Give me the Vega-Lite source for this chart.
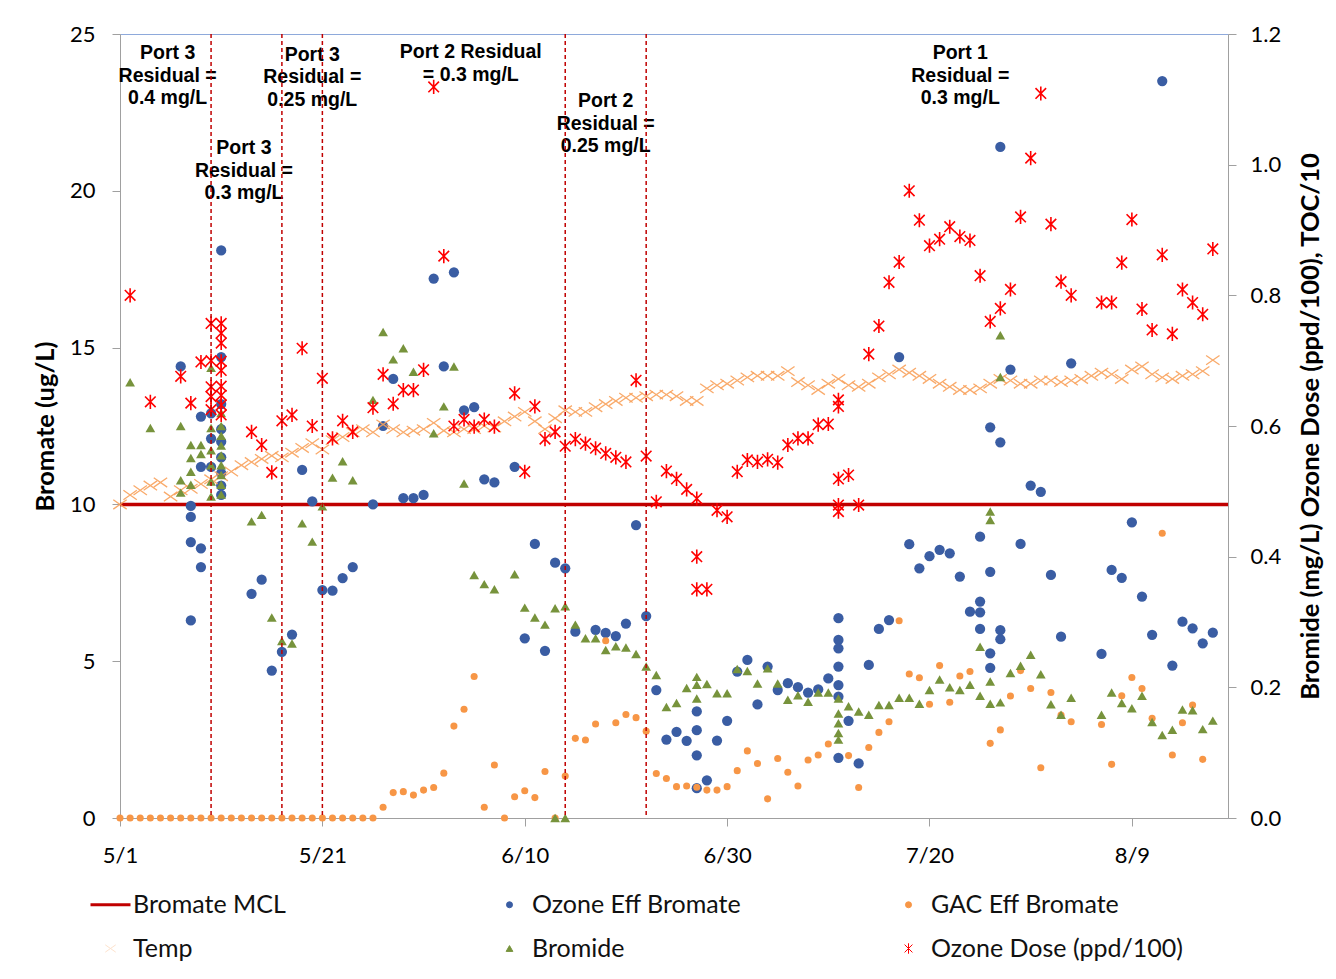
{
  "$schema": "https://vega.github.io/schema/vega-lite/v6.json",
  "width": 1108,
  "height": 784,
  "autosize": {"type": "none"},
  "padding": {"left": 120, "top": 34, "right": 108, "bottom": 161},
  "background": "#ffffff",
  "config": {
    "font": "Lato",
    "view": {"stroke": "#8EA9DB", "strokeWidth": 1},
    "axis": {
      "domainColor": "#A0A0A0", "tickColor": "#A0A0A0", "grid": false,
      "labelFont": "Lato", "labelFontSize": 22, "labelColor": "#000000",
      "titleFont": "Lato", "titleFontSize": 25.5, "titleFontWeight": "bold", "titleColor": "#000000",
      "tickSize": 8, "labelFlush": false, "labelOverlap": false
    }
  },
  "datasets": {
    "mcl": [{"value": 10}],
    "changes": [
      {"date": "2013-05-10"}, {"date": "2013-05-17"}, {"date": "2013-05-21"},
      {"date": "2013-06-14"}, {"date": "2013-06-22"}
    ],
    "notes": [
      {"date": "2013-05-05T17:00:00Z", "value": 24.68, "text": "Port 3\nResidual =\n0.4 mg/L"},
      {"date": "2013-05-13T06:00:00Z", "value": 21.65, "text": "Port 3\nResidual =\n0.3 mg/L"},
      {"date": "2013-05-20T00:00:00Z", "value": 24.62, "text": "Port 3\nResidual =\n0.25 mg/L"},
      {"date": "2013-06-04T16:00:00Z", "value": 24.71, "text": "Port 2 Residual\n= 0.3 mg/L"},
      {"date": "2013-06-18T00:00:00Z", "value": 23.15, "text": "Port 2\nResidual =\n0.25 mg/L"},
      {"date": "2013-07-23T01:00:00Z", "value": 24.68, "text": "Port 1\nResidual =\n0.3 mg/L"}
    ],
    "ozoneEff": [
      {"date": "2013-05-07", "value": 14.4},
      {"date": "2013-05-08", "value": 9.95}, {"date": "2013-05-08", "value": 9.6}, {"date": "2013-05-08", "value": 8.8}, {"date": "2013-05-08", "value": 6.3},
      {"date": "2013-05-09", "value": 12.8}, {"date": "2013-05-09", "value": 11.2}, {"date": "2013-05-09", "value": 8.6}, {"date": "2013-05-09", "value": 8.0},
      {"date": "2013-05-10", "value": 12.9}, {"date": "2013-05-10", "value": 12.1}, {"date": "2013-05-10", "value": 11.2},
      {"date": "2013-05-11", "value": 18.1}, {"date": "2013-05-11", "value": 14.7}, {"date": "2013-05-11", "value": 13.2}, {"date": "2013-05-11", "value": 12.4}, {"date": "2013-05-11", "value": 12.0}, {"date": "2013-05-11", "value": 11.5}, {"date": "2013-05-11", "value": 11.0}, {"date": "2013-05-11", "value": 10.6}, {"date": "2013-05-11", "value": 10.3},
      {"date": "2013-05-14", "value": 7.15}, {"date": "2013-05-15", "value": 7.6}, {"date": "2013-05-16", "value": 4.7}, {"date": "2013-05-17", "value": 5.3},
      {"date": "2013-05-18", "value": 5.85}, {"date": "2013-05-19", "value": 11.1}, {"date": "2013-05-20", "value": 10.1}, {"date": "2013-05-21", "value": 7.27},
      {"date": "2013-05-22", "value": 7.25}, {"date": "2013-05-23", "value": 7.65}, {"date": "2013-05-24", "value": 8.0}, {"date": "2013-05-26", "value": 10.0},
      {"date": "2013-05-27", "value": 12.5}, {"date": "2013-05-28", "value": 14.0}, {"date": "2013-05-29", "value": 10.2}, {"date": "2013-05-30", "value": 10.2},
      {"date": "2013-05-31", "value": 10.3}, {"date": "2013-06-01", "value": 17.2}, {"date": "2013-06-02", "value": 14.4}, {"date": "2013-06-03", "value": 17.4},
      {"date": "2013-06-04", "value": 13.0}, {"date": "2013-06-05", "value": 13.1}, {"date": "2013-06-06", "value": 10.8}, {"date": "2013-06-07", "value": 10.7},
      {"date": "2013-06-09", "value": 11.2}, {"date": "2013-06-10", "value": 5.73}, {"date": "2013-06-11", "value": 8.74}, {"date": "2013-06-12", "value": 5.33},
      {"date": "2013-06-13", "value": 8.14}, {"date": "2013-06-14", "value": 7.96}, {"date": "2013-06-15", "value": 5.94}, {"date": "2013-06-17", "value": 6.0},
      {"date": "2013-06-18", "value": 5.9}, {"date": "2013-06-19", "value": 5.8}, {"date": "2013-06-20", "value": 6.2}, {"date": "2013-06-21", "value": 9.34},
      {"date": "2013-06-22", "value": 6.44}, {"date": "2013-06-23", "value": 4.08}, {"date": "2013-06-24", "value": 2.5}, {"date": "2013-06-25", "value": 2.75},
      {"date": "2013-06-26", "value": 2.46},
      {"date": "2013-06-27", "value": 3.4}, {"date": "2013-06-27", "value": 2.8}, {"date": "2013-06-27", "value": 2.0}, {"date": "2013-06-27", "value": 0.95},
      {"date": "2013-06-28", "value": 1.2}, {"date": "2013-06-29", "value": 2.47}, {"date": "2013-06-30", "value": 3.1},
      {"date": "2013-07-01", "value": 4.67}, {"date": "2013-07-02", "value": 5.04}, {"date": "2013-07-03", "value": 3.62}, {"date": "2013-07-04", "value": 4.83},
      {"date": "2013-07-05", "value": 4.08}, {"date": "2013-07-06", "value": 4.3}, {"date": "2013-07-07", "value": 4.17}, {"date": "2013-07-08", "value": 4.0},
      {"date": "2013-07-09", "value": 4.1}, {"date": "2013-07-10", "value": 4.45},
      {"date": "2013-07-11", "value": 6.37}, {"date": "2013-07-11", "value": 5.68}, {"date": "2013-07-11", "value": 5.41}, {"date": "2013-07-11", "value": 4.83}, {"date": "2013-07-11", "value": 4.24}, {"date": "2013-07-11", "value": 3.87}, {"date": "2013-07-11", "value": 1.92},
      {"date": "2013-07-12", "value": 3.1}, {"date": "2013-07-13", "value": 1.74}, {"date": "2013-07-14", "value": 4.88}, {"date": "2013-07-15", "value": 6.03},
      {"date": "2013-07-16", "value": 6.31}, {"date": "2013-07-17", "value": 14.7}, {"date": "2013-07-18", "value": 8.73}, {"date": "2013-07-19", "value": 7.96},
      {"date": "2013-07-20", "value": 8.35}, {"date": "2013-07-21", "value": 8.55}, {"date": "2013-07-22", "value": 8.44}, {"date": "2013-07-23", "value": 7.7},
      {"date": "2013-07-24", "value": 6.58},
      {"date": "2013-07-25", "value": 8.97}, {"date": "2013-07-25", "value": 6.9}, {"date": "2013-07-25", "value": 6.56}, {"date": "2013-07-25", "value": 6.03},
      {"date": "2013-07-26", "value": 12.46}, {"date": "2013-07-26", "value": 7.85}, {"date": "2013-07-26", "value": 5.25}, {"date": "2013-07-26", "value": 4.79},
      {"date": "2013-07-27", "value": 21.4}, {"date": "2013-07-27", "value": 11.98}, {"date": "2013-07-27", "value": 5.99}, {"date": "2013-07-27", "value": 5.7},
      {"date": "2013-07-28", "value": 14.3}, {"date": "2013-07-29", "value": 8.74}, {"date": "2013-07-30", "value": 10.6}, {"date": "2013-07-31", "value": 10.4},
      {"date": "2013-08-01", "value": 7.75}, {"date": "2013-08-02", "value": 5.78}, {"date": "2013-08-03", "value": 14.5}, {"date": "2013-08-06", "value": 5.23},
      {"date": "2013-08-07", "value": 7.91}, {"date": "2013-08-08", "value": 7.66}, {"date": "2013-08-09", "value": 9.43}, {"date": "2013-08-10", "value": 7.06},
      {"date": "2013-08-11", "value": 5.84}, {"date": "2013-08-12", "value": 23.5}, {"date": "2013-08-13", "value": 4.86}, {"date": "2013-08-14", "value": 6.26},
      {"date": "2013-08-15", "value": 6.05}, {"date": "2013-08-16", "value": 5.57}, {"date": "2013-08-17", "value": 5.91}
    ],
    "gacEff": [
      {"date": "2013-05-01", "value": 0}, {"date": "2013-05-02", "value": 0}, {"date": "2013-05-03", "value": 0}, {"date": "2013-05-04", "value": 0},
      {"date": "2013-05-05", "value": 0}, {"date": "2013-05-06", "value": 0}, {"date": "2013-05-07", "value": 0}, {"date": "2013-05-08", "value": 0},
      {"date": "2013-05-09", "value": 0}, {"date": "2013-05-10", "value": 0}, {"date": "2013-05-11", "value": 0}, {"date": "2013-05-12", "value": 0},
      {"date": "2013-05-13", "value": 0}, {"date": "2013-05-14", "value": 0}, {"date": "2013-05-15", "value": 0}, {"date": "2013-05-16", "value": 0},
      {"date": "2013-05-17", "value": 0}, {"date": "2013-05-18", "value": 0}, {"date": "2013-05-19", "value": 0}, {"date": "2013-05-20", "value": 0},
      {"date": "2013-05-21", "value": 0}, {"date": "2013-05-22", "value": 0}, {"date": "2013-05-23", "value": 0}, {"date": "2013-05-24", "value": 0},
      {"date": "2013-05-25", "value": 0}, {"date": "2013-05-26", "value": 0},
      {"date": "2013-05-27", "value": 0.34}, {"date": "2013-05-28", "value": 0.81}, {"date": "2013-05-29", "value": 0.84}, {"date": "2013-05-30", "value": 0.73},
      {"date": "2013-05-31", "value": 0.89}, {"date": "2013-06-01", "value": 0.97}, {"date": "2013-06-02", "value": 1.43}, {"date": "2013-06-03", "value": 2.93},
      {"date": "2013-06-04", "value": 3.47}, {"date": "2013-06-05", "value": 4.51}, {"date": "2013-06-06", "value": 0.34}, {"date": "2013-06-07", "value": 1.69},
      {"date": "2013-06-08", "value": 0.0}, {"date": "2013-06-09", "value": 0.68}, {"date": "2013-06-10", "value": 0.87}, {"date": "2013-06-11", "value": 0.65},
      {"date": "2013-06-12", "value": 1.48}, {"date": "2013-06-13", "value": 0.0}, {"date": "2013-06-14", "value": 1.34}, {"date": "2013-06-15", "value": 2.54},
      {"date": "2013-06-16", "value": 2.49}, {"date": "2013-06-17", "value": 3.0}, {"date": "2013-06-18", "value": 5.65}, {"date": "2013-06-19", "value": 3.04},
      {"date": "2013-06-20", "value": 3.3}, {"date": "2013-06-21", "value": 3.2}, {"date": "2013-06-22", "value": 2.77}, {"date": "2013-06-23", "value": 1.42},
      {"date": "2013-06-24", "value": 1.26}, {"date": "2013-06-25", "value": 1.0}, {"date": "2013-06-26", "value": 1.02}, {"date": "2013-06-27", "value": 0.98},
      {"date": "2013-06-28", "value": 0.89}, {"date": "2013-06-29", "value": 0.89}, {"date": "2013-06-30", "value": 1.0}, {"date": "2013-07-01", "value": 1.51},
      {"date": "2013-07-02", "value": 2.14}, {"date": "2013-07-03", "value": 1.74}, {"date": "2013-07-04", "value": 0.61}, {"date": "2013-07-05", "value": 1.9},
      {"date": "2013-07-06", "value": 1.46}, {"date": "2013-07-07", "value": 1.02}, {"date": "2013-07-08", "value": 1.85}, {"date": "2013-07-09", "value": 2.01},
      {"date": "2013-07-10", "value": 2.36}, {"date": "2013-07-12", "value": 1.99}, {"date": "2013-07-13", "value": 0.97}, {"date": "2013-07-14", "value": 2.25},
      {"date": "2013-07-15", "value": 2.73}, {"date": "2013-07-16", "value": 3.07}, {"date": "2013-07-17", "value": 6.29}, {"date": "2013-07-18", "value": 4.59},
      {"date": "2013-07-19", "value": 4.47}, {"date": "2013-07-20", "value": 3.63}, {"date": "2013-07-21", "value": 4.86}, {"date": "2013-07-22", "value": 3.69},
      {"date": "2013-07-23", "value": 4.53}, {"date": "2013-07-24", "value": 4.67}, {"date": "2013-07-26", "value": 2.38}, {"date": "2013-07-27", "value": 2.81},
      {"date": "2013-07-28", "value": 3.89}, {"date": "2013-07-29", "value": 4.7}, {"date": "2013-07-30", "value": 4.13}, {"date": "2013-07-31", "value": 1.6},
      {"date": "2013-08-01", "value": 4.0}, {"date": "2013-08-02", "value": 3.28}, {"date": "2013-08-03", "value": 3.07}, {"date": "2013-08-06", "value": 2.98},
      {"date": "2013-08-07", "value": 1.71}, {"date": "2013-08-08", "value": 3.9}, {"date": "2013-08-09", "value": 4.48}, {"date": "2013-08-10", "value": 4.13},
      {"date": "2013-08-11", "value": 3.18}, {"date": "2013-08-12", "value": 9.08}, {"date": "2013-08-13", "value": 2.01}, {"date": "2013-08-14", "value": 3.04},
      {"date": "2013-08-15", "value": 3.6}, {"date": "2013-08-16", "value": 1.87}
    ],
    "temp": [
      {"date": "2013-05-01", "value": 10.0}, {"date": "2013-05-02", "value": 10.3}, {"date": "2013-05-03", "value": 10.45}, {"date": "2013-05-04", "value": 10.6},
      {"date": "2013-05-05", "value": 10.7}, {"date": "2013-05-06", "value": 10.25}, {"date": "2013-05-07", "value": 10.45}, {"date": "2013-05-08", "value": 10.5},
      {"date": "2013-05-09", "value": 10.65}, {"date": "2013-05-10", "value": 10.8}, {"date": "2013-05-11", "value": 10.9}, {"date": "2013-05-12", "value": 11.05},
      {"date": "2013-05-13", "value": 11.25}, {"date": "2013-05-14", "value": 11.35}, {"date": "2013-05-15", "value": 11.45}, {"date": "2013-05-16", "value": 11.55},
      {"date": "2013-05-17", "value": 11.5}, {"date": "2013-05-18", "value": 11.65}, {"date": "2013-05-19", "value": 11.8}, {"date": "2013-05-20", "value": 11.95},
      {"date": "2013-05-21", "value": 11.75}, {"date": "2013-05-22", "value": 12.05}, {"date": "2013-05-23", "value": 12.15}, {"date": "2013-05-24", "value": 12.3},
      {"date": "2013-05-25", "value": 12.4}, {"date": "2013-05-26", "value": 12.3}, {"date": "2013-05-27", "value": 12.55}, {"date": "2013-05-28", "value": 12.4},
      {"date": "2013-05-29", "value": 12.3}, {"date": "2013-05-30", "value": 12.35}, {"date": "2013-05-31", "value": 12.4}, {"date": "2013-06-01", "value": 12.6},
      {"date": "2013-06-02", "value": 12.35}, {"date": "2013-06-03", "value": 12.3}, {"date": "2013-06-04", "value": 12.4}, {"date": "2013-06-05", "value": 12.4},
      {"date": "2013-06-06", "value": 12.5}, {"date": "2013-06-07", "value": 12.45}, {"date": "2013-06-08", "value": 12.65}, {"date": "2013-06-09", "value": 12.8},
      {"date": "2013-06-10", "value": 12.95}, {"date": "2013-06-11", "value": 12.65}, {"date": "2013-06-12", "value": 12.4}, {"date": "2013-06-13", "value": 12.75},
      {"date": "2013-06-14", "value": 13.0}, {"date": "2013-06-15", "value": 12.95}, {"date": "2013-06-16", "value": 12.95}, {"date": "2013-06-17", "value": 13.1},
      {"date": "2013-06-18", "value": 13.2}, {"date": "2013-06-19", "value": 13.3}, {"date": "2013-06-20", "value": 13.4}, {"date": "2013-06-21", "value": 13.4},
      {"date": "2013-06-22", "value": 13.45}, {"date": "2013-06-23", "value": 13.5}, {"date": "2013-06-24", "value": 13.5}, {"date": "2013-06-25", "value": 13.45},
      {"date": "2013-06-26", "value": 13.3}, {"date": "2013-06-27", "value": 13.3}, {"date": "2013-06-28", "value": 13.7}, {"date": "2013-06-29", "value": 13.8},
      {"date": "2013-06-30", "value": 13.85}, {"date": "2013-07-01", "value": 13.95}, {"date": "2013-07-02", "value": 14.05}, {"date": "2013-07-03", "value": 14.1},
      {"date": "2013-07-04", "value": 14.1}, {"date": "2013-07-05", "value": 14.1}, {"date": "2013-07-06", "value": 14.25}, {"date": "2013-07-07", "value": 13.9},
      {"date": "2013-07-08", "value": 13.8}, {"date": "2013-07-09", "value": 13.65}, {"date": "2013-07-10", "value": 13.85}, {"date": "2013-07-11", "value": 14.0},
      {"date": "2013-07-12", "value": 13.8}, {"date": "2013-07-13", "value": 13.75}, {"date": "2013-07-14", "value": 13.85}, {"date": "2013-07-15", "value": 14.05},
      {"date": "2013-07-16", "value": 14.15}, {"date": "2013-07-17", "value": 14.3}, {"date": "2013-07-18", "value": 14.2}, {"date": "2013-07-19", "value": 14.1},
      {"date": "2013-07-20", "value": 14.0}, {"date": "2013-07-21", "value": 13.85}, {"date": "2013-07-22", "value": 13.75}, {"date": "2013-07-23", "value": 13.65},
      {"date": "2013-07-24", "value": 13.65}, {"date": "2013-07-25", "value": 13.7}, {"date": "2013-07-26", "value": 13.85}, {"date": "2013-07-27", "value": 14.0},
      {"date": "2013-07-28", "value": 13.95}, {"date": "2013-07-29", "value": 13.85}, {"date": "2013-07-30", "value": 13.85}, {"date": "2013-07-31", "value": 13.95},
      {"date": "2013-08-01", "value": 13.95}, {"date": "2013-08-02", "value": 13.9}, {"date": "2013-08-03", "value": 13.95}, {"date": "2013-08-04", "value": 14.0},
      {"date": "2013-08-05", "value": 14.1}, {"date": "2013-08-06", "value": 14.2}, {"date": "2013-08-07", "value": 14.15}, {"date": "2013-08-08", "value": 14.0},
      {"date": "2013-08-09", "value": 14.3}, {"date": "2013-08-10", "value": 14.4}, {"date": "2013-08-11", "value": 14.15}, {"date": "2013-08-12", "value": 14.05},
      {"date": "2013-08-13", "value": 14.0}, {"date": "2013-08-14", "value": 14.1}, {"date": "2013-08-15", "value": 14.15}, {"date": "2013-08-16", "value": 14.25},
      {"date": "2013-08-17", "value": 14.6}
    ],
    "bromide": [
      {"date": "2013-05-02", "value": 0.667}, {"date": "2013-05-04", "value": 0.597},
      {"date": "2013-05-07", "value": 0.6}, {"date": "2013-05-07", "value": 0.517}, {"date": "2013-05-07", "value": 0.498},
      {"date": "2013-05-08", "value": 0.571}, {"date": "2013-05-08", "value": 0.551}, {"date": "2013-05-08", "value": 0.53}, {"date": "2013-05-08", "value": 0.51},
      {"date": "2013-05-09", "value": 0.571}, {"date": "2013-05-09", "value": 0.557},
      {"date": "2013-05-10", "value": 0.689}, {"date": "2013-05-10", "value": 0.597}, {"date": "2013-05-10", "value": 0.563}, {"date": "2013-05-10", "value": 0.54}, {"date": "2013-05-10", "value": 0.515}, {"date": "2013-05-10", "value": 0.492},
      {"date": "2013-05-11", "value": 0.62}, {"date": "2013-05-11", "value": 0.6}, {"date": "2013-05-11", "value": 0.585}, {"date": "2013-05-11", "value": 0.57}, {"date": "2013-05-11", "value": 0.555}, {"date": "2013-05-11", "value": 0.54}, {"date": "2013-05-11", "value": 0.525}, {"date": "2013-05-11", "value": 0.51}, {"date": "2013-05-11", "value": 0.495},
      {"date": "2013-05-14", "value": 0.454}, {"date": "2013-05-15", "value": 0.464}, {"date": "2013-05-16", "value": 0.307}, {"date": "2013-05-17", "value": 0.271},
      {"date": "2013-05-18", "value": 0.267}, {"date": "2013-05-19", "value": 0.451}, {"date": "2013-05-20", "value": 0.423}, {"date": "2013-05-21", "value": 0.477},
      {"date": "2013-05-22", "value": 0.521}, {"date": "2013-05-23", "value": 0.546}, {"date": "2013-05-24", "value": 0.517}, {"date": "2013-05-26", "value": 0.64},
      {"date": "2013-05-27", "value": 0.744}, {"date": "2013-05-28", "value": 0.702}, {"date": "2013-05-29", "value": 0.719}, {"date": "2013-05-30", "value": 0.683},
      {"date": "2013-06-01", "value": 0.589}, {"date": "2013-06-02", "value": 0.63}, {"date": "2013-06-03", "value": 0.691}, {"date": "2013-06-04", "value": 0.512},
      {"date": "2013-06-05", "value": 0.372}, {"date": "2013-06-06", "value": 0.358}, {"date": "2013-06-07", "value": 0.35}, {"date": "2013-06-09", "value": 0.373},
      {"date": "2013-06-10", "value": 0.322}, {"date": "2013-06-11", "value": 0.307}, {"date": "2013-06-12", "value": 0.296},
      {"date": "2013-06-13", "value": 0.321}, {"date": "2013-06-13", "value": 0}, {"date": "2013-06-14", "value": 0.324}, {"date": "2013-06-14", "value": 0},
      {"date": "2013-06-15", "value": 0.296}, {"date": "2013-06-16", "value": 0.275}, {"date": "2013-06-17", "value": 0.275}, {"date": "2013-06-18", "value": 0.257},
      {"date": "2013-06-19", "value": 0.263}, {"date": "2013-06-20", "value": 0.261}, {"date": "2013-06-21", "value": 0.251}, {"date": "2013-06-22", "value": 0.232},
      {"date": "2013-06-23", "value": 0.219}, {"date": "2013-06-24", "value": 0.17}, {"date": "2013-06-25", "value": 0.176}, {"date": "2013-06-26", "value": 0.199},
      {"date": "2013-06-27", "value": 0.216}, {"date": "2013-06-27", "value": 0.204}, {"date": "2013-06-27", "value": 0.183},
      {"date": "2013-06-28", "value": 0.205}, {"date": "2013-06-29", "value": 0.191}, {"date": "2013-06-30", "value": 0.191}, {"date": "2013-07-01", "value": 0.228},
      {"date": "2013-07-02", "value": 0.225}, {"date": "2013-07-03", "value": 0.206}, {"date": "2013-07-04", "value": 0.229}, {"date": "2013-07-05", "value": 0.206},
      {"date": "2013-07-06", "value": 0.181}, {"date": "2013-07-07", "value": 0.188}, {"date": "2013-07-08", "value": 0.178}, {"date": "2013-07-09", "value": 0.192},
      {"date": "2013-07-10", "value": 0.192},
      {"date": "2013-07-11", "value": 0.183}, {"date": "2013-07-11", "value": 0.16}, {"date": "2013-07-11", "value": 0.145}, {"date": "2013-07-11", "value": 0.13}, {"date": "2013-07-11", "value": 0.12},
      {"date": "2013-07-12", "value": 0.171}, {"date": "2013-07-13", "value": 0.163}, {"date": "2013-07-14", "value": 0.158}, {"date": "2013-07-15", "value": 0.173},
      {"date": "2013-07-16", "value": 0.173}, {"date": "2013-07-17", "value": 0.184}, {"date": "2013-07-18", "value": 0.184}, {"date": "2013-07-19", "value": 0.175},
      {"date": "2013-07-20", "value": 0.196}, {"date": "2013-07-21", "value": 0.212}, {"date": "2013-07-22", "value": 0.2}, {"date": "2013-07-23", "value": 0.196},
      {"date": "2013-07-24", "value": 0.204}, {"date": "2013-07-25", "value": 0.262}, {"date": "2013-07-25", "value": 0.187},
      {"date": "2013-07-26", "value": 0.469}, {"date": "2013-07-26", "value": 0.456}, {"date": "2013-07-26", "value": 0.209}, {"date": "2013-07-26", "value": 0.175},
      {"date": "2013-07-27", "value": 0.739}, {"date": "2013-07-27", "value": 0.675}, {"date": "2013-07-27", "value": 0.177},
      {"date": "2013-07-28", "value": 0.222}, {"date": "2013-07-29", "value": 0.233}, {"date": "2013-07-30", "value": 0.25}, {"date": "2013-07-31", "value": 0.22},
      {"date": "2013-08-01", "value": 0.174}, {"date": "2013-08-02", "value": 0.158}, {"date": "2013-08-03", "value": 0.184}, {"date": "2013-08-06", "value": 0.158},
      {"date": "2013-08-07", "value": 0.192}, {"date": "2013-08-08", "value": 0.176}, {"date": "2013-08-09", "value": 0.168}, {"date": "2013-08-10", "value": 0.187},
      {"date": "2013-08-11", "value": 0.147}, {"date": "2013-08-12", "value": 0.127}, {"date": "2013-08-13", "value": 0.135}, {"date": "2013-08-14", "value": 0.166},
      {"date": "2013-08-15", "value": 0.165}, {"date": "2013-08-16", "value": 0.136}, {"date": "2013-08-17", "value": 0.149}
    ],
    "ozoneDose": [
      {"date": "2013-05-02", "value": 0.8}, {"date": "2013-05-04", "value": 0.637}, {"date": "2013-05-07", "value": 0.676}, {"date": "2013-05-08", "value": 0.635},
      {"date": "2013-05-09", "value": 0.698},
      {"date": "2013-05-10", "value": 0.757}, {"date": "2013-05-10", "value": 0.7}, {"date": "2013-05-10", "value": 0.66}, {"date": "2013-05-10", "value": 0.645}, {"date": "2013-05-10", "value": 0.625},
      {"date": "2013-05-11", "value": 0.757}, {"date": "2013-05-11", "value": 0.742}, {"date": "2013-05-11", "value": 0.727}, {"date": "2013-05-11", "value": 0.699}, {"date": "2013-05-11", "value": 0.685}, {"date": "2013-05-11", "value": 0.661}, {"date": "2013-05-11", "value": 0.647}, {"date": "2013-05-11", "value": 0.632}, {"date": "2013-05-11", "value": 0.617},
      {"date": "2013-05-14", "value": 0.591}, {"date": "2013-05-15", "value": 0.571}, {"date": "2013-05-16", "value": 0.529}, {"date": "2013-05-17", "value": 0.608},
      {"date": "2013-05-18", "value": 0.617}, {"date": "2013-05-19", "value": 0.719}, {"date": "2013-05-20", "value": 0.6}, {"date": "2013-05-21", "value": 0.673},
      {"date": "2013-05-22", "value": 0.581}, {"date": "2013-05-23", "value": 0.608}, {"date": "2013-05-24", "value": 0.591}, {"date": "2013-05-26", "value": 0.628},
      {"date": "2013-05-27", "value": 0.679}, {"date": "2013-05-28", "value": 0.634}, {"date": "2013-05-29", "value": 0.655}, {"date": "2013-05-30", "value": 0.655},
      {"date": "2013-05-31", "value": 0.686}, {"date": "2013-06-01", "value": 1.119}, {"date": "2013-06-02", "value": 0.86}, {"date": "2013-06-03", "value": 0.6},
      {"date": "2013-06-04", "value": 0.61}, {"date": "2013-06-05", "value": 0.599}, {"date": "2013-06-06", "value": 0.61}, {"date": "2013-06-07", "value": 0.599},
      {"date": "2013-06-09", "value": 0.65}, {"date": "2013-06-10", "value": 0.53}, {"date": "2013-06-11", "value": 0.63}, {"date": "2013-06-12", "value": 0.58},
      {"date": "2013-06-13", "value": 0.591}, {"date": "2013-06-14", "value": 0.569}, {"date": "2013-06-15", "value": 0.58}, {"date": "2013-06-16", "value": 0.573},
      {"date": "2013-06-17", "value": 0.566}, {"date": "2013-06-18", "value": 0.558}, {"date": "2013-06-19", "value": 0.552}, {"date": "2013-06-20", "value": 0.545},
      {"date": "2013-06-21", "value": 0.67}, {"date": "2013-06-22", "value": 0.554}, {"date": "2013-06-23", "value": 0.484}, {"date": "2013-06-24", "value": 0.531},
      {"date": "2013-06-25", "value": 0.519}, {"date": "2013-06-26", "value": 0.503},
      {"date": "2013-06-27", "value": 0.489}, {"date": "2013-06-27", "value": 0.4}, {"date": "2013-06-27", "value": 0.35},
      {"date": "2013-06-28", "value": 0.35}, {"date": "2013-06-29", "value": 0.471}, {"date": "2013-06-30", "value": 0.461}, {"date": "2013-07-01", "value": 0.53},
      {"date": "2013-07-02", "value": 0.548}, {"date": "2013-07-03", "value": 0.545}, {"date": "2013-07-04", "value": 0.549}, {"date": "2013-07-05", "value": 0.544},
      {"date": "2013-07-06", "value": 0.571}, {"date": "2013-07-07", "value": 0.581}, {"date": "2013-07-08", "value": 0.581}, {"date": "2013-07-09", "value": 0.602},
      {"date": "2013-07-10", "value": 0.603},
      {"date": "2013-07-11", "value": 0.64}, {"date": "2013-07-11", "value": 0.63}, {"date": "2013-07-11", "value": 0.519}, {"date": "2013-07-11", "value": 0.479}, {"date": "2013-07-11", "value": 0.469},
      {"date": "2013-07-12", "value": 0.525}, {"date": "2013-07-13", "value": 0.479}, {"date": "2013-07-14", "value": 0.71}, {"date": "2013-07-15", "value": 0.753},
      {"date": "2013-07-16", "value": 0.82}, {"date": "2013-07-17", "value": 0.851}, {"date": "2013-07-18", "value": 0.96}, {"date": "2013-07-19", "value": 0.915},
      {"date": "2013-07-20", "value": 0.876}, {"date": "2013-07-21", "value": 0.886}, {"date": "2013-07-22", "value": 0.905}, {"date": "2013-07-23", "value": 0.89},
      {"date": "2013-07-24", "value": 0.884}, {"date": "2013-07-25", "value": 0.83}, {"date": "2013-07-26", "value": 0.76}, {"date": "2013-07-27", "value": 0.78},
      {"date": "2013-07-28", "value": 0.809}, {"date": "2013-07-29", "value": 0.92}, {"date": "2013-07-30", "value": 1.01}, {"date": "2013-07-31", "value": 1.109},
      {"date": "2013-08-01", "value": 0.909}, {"date": "2013-08-02", "value": 0.821}, {"date": "2013-08-03", "value": 0.8}, {"date": "2013-08-06", "value": 0.789},
      {"date": "2013-08-07", "value": 0.789}, {"date": "2013-08-08", "value": 0.85}, {"date": "2013-08-09", "value": 0.916}, {"date": "2013-08-10", "value": 0.779},
      {"date": "2013-08-11", "value": 0.747}, {"date": "2013-08-12", "value": 0.862}, {"date": "2013-08-13", "value": 0.741}, {"date": "2013-08-14", "value": 0.809},
      {"date": "2013-08-15", "value": 0.789}, {"date": "2013-08-16", "value": 0.771}, {"date": "2013-08-17", "value": 0.871}
    ]
  },
  "layer": [
    {
      "encoding": {
        "y": {
          "field": "value", "type": "quantitative",
          "scale": {"domain": [0, 25], "nice": false, "zero": false},
          "axis": {
            "title": "Bromate (ug/L)", "values": [0, 5, 10, 15, 20, 25], "labelPadding": 17,
            "titleAngle": -90, "titleX": -75, "titleY": 392, "titleAlign": "center", "titleBaseline": "middle"
          }
        }
      },
      "layer": [
        {
          "data": {"name": "mcl"},
          "mark": {"type": "rule", "strokeWidth": 3.5},
          "encoding": {
            "color": {"datum": "Bromate MCL"}
          }
        },
        {
          "data": {"name": "ozoneEff"},
          "mark": {"type": "point", "filled": true, "opacity": 1, "size": 105, "strokeWidth": 0.5},
          "encoding": {
            "x": {
              "field": "date", "type": "temporal", "title": null,
              "scale": {
                "type": "utc", "nice": false,
                "domain": [
                  {"year": 2013, "month": 5, "date": 1, "utc": true},
                  {"year": 2013, "month": 8, "date": 18, "hours": 12, "utc": true}
                ]
              },
              "axis": {
                "title": null, "format": "%-m/%-d", "labelPadding": 19,
                "values": [
                  {"year": 2013, "month": 5, "date": 1, "utc": true},
                  {"year": 2013, "month": 5, "date": 21, "utc": true},
                  {"year": 2013, "month": 6, "date": 10, "utc": true},
                  {"year": 2013, "month": 6, "date": 30, "utc": true},
                  {"year": 2013, "month": 7, "date": 20, "utc": true},
                  {"year": 2013, "month": 8, "date": 9, "utc": true}
                ]
              }
            },
            "color": {
              "datum": "Ozone Eff Bromate",
              "scale": {
                "domain": ["Bromate MCL", "Ozone Eff Bromate", "GAC Eff Bromate", "Temp", "Bromide", "Ozone Dose (ppd/100)"],
                "range": ["#C00000", "#3A5DA3", "#F79646", "#F9A25C", "#77933C", "#FF0000"]
              },
              "legend": {
                "title": null, "orient": "none", "legendX": -22, "legendY": 858,
                "direction": "horizontal", "columns": 3, "gridAlign": "all",
                "columnPadding": 112, "rowPadding": 18, "padding": 0,
                "labelFont": "Lato", "labelFontSize": 25, "labelColor": "#111111", "labelOffset": 10,
                "labelLimit": 400, "symbolSize": 1600,
                "encoding": {
                  "symbols": {
                    "fill": {"value": {"expr": "scale('color', datum.value)"}},
                    "stroke": {"value": {"expr": "scale('color', datum.value)"}},
                    "strokeWidth": {"value": {"expr": "datum.value === 'Bromate MCL' ? 3 : 1"}},
                    "size": {"value": {"expr": "datum.value === 'Bromate MCL' ? 1600 : (datum.value === 'Ozone Eff Bromate' || datum.value === 'GAC Eff Bromate') ? 36 : datum.value === 'Bromide' ? 45 : 110"}},
                    "opacity": {"value": {"expr": "datum.value === 'Temp' ? 0.3 : 1"}}
                  }
                }
              }
            },
            "shape": {
              "datum": "Ozone Eff Bromate",
              "scale": {
                "domain": ["Bromate MCL", "Ozone Eff Bromate", "GAC Eff Bromate", "Temp", "Bromide", "Ozone Dose (ppd/100)"],
                "range": ["stroke", "circle", "circle", "M-1,-0.7L1,0.7M-1,0.7L1,-0.7", "triangle-up", "M-0.75,-0.75L0.75,0.75M-0.75,0.75L0.75,-0.75M0,-1L0,1"]
              },
              "legend": {
                "title": null, "orient": "none", "legendX": -22, "legendY": 858,
                "direction": "horizontal", "columns": 3, "gridAlign": "all",
                "columnPadding": 112, "rowPadding": 18, "padding": 0,
                "labelFont": "Lato", "labelFontSize": 25, "labelColor": "#111111", "labelOffset": 10,
                "labelLimit": 400, "symbolSize": 1600
              }
            }
          }
        },
        {
          "data": {"name": "gacEff"},
          "mark": {"type": "point", "filled": true, "opacity": 1, "size": 50},
          "encoding": {
            "x": {"field": "date", "type": "temporal", "title": null},
            "color": {"datum": "GAC Eff Bromate"},
            "shape": {"datum": "GAC Eff Bromate"}
          }
        },
        {
          "data": {"name": "temp"},
          "mark": {"type": "point", "filled": false, "opacity": 0.9, "size": 180, "strokeWidth": 1.3},
          "encoding": {
            "x": {"field": "date", "type": "temporal", "title": null},
            "color": {"datum": "Temp"},
            "shape": {"datum": "Temp"}
          }
        },
        {
          "data": {"name": "notes"},
          "mark": {
            "type": "text", "font": "Liberation Sans", "fontSize": 19.5, "fontWeight": "bold",
            "lineHeight": 22.5, "align": "center", "baseline": "top", "lineBreak": "\n", "color": "#000000"
          },
          "encoding": {
            "x": {"field": "date", "type": "temporal", "title": null},
            "text": {"field": "text"}
          }
        }
      ]
    },
    {
      "encoding": {
        "y": {
          "field": "value", "type": "quantitative",
          "scale": {"domain": [0, 1.2], "nice": false, "zero": false},
          "axis": {
            "title": "Bromide (mg/L) Ozone Dose (ppd/100), TOC/10",
            "values": [0, 0.2, 0.4, 0.6, 0.8, 1.0, 1.2], "format": ".1f", "labelPadding": 14,
            "titleAngle": -90, "titleX": 82, "titleY": 392, "titleAlign": "center", "titleBaseline": "middle"
          }
        }
      },
      "layer": [
        {
          "data": {"name": "bromide"},
          "mark": {"type": "point", "filled": true, "opacity": 1, "size": 95},
          "encoding": {
            "x": {"field": "date", "type": "temporal", "title": null},
            "color": {"datum": "Bromide"},
            "shape": {"datum": "Bromide"}
          }
        },
        {
          "data": {"name": "ozoneDose"},
          "mark": {"type": "point", "filled": false, "opacity": 1, "size": 200, "strokeWidth": 1.6},
          "encoding": {
            "x": {"field": "date", "type": "temporal", "title": null},
            "color": {"datum": "Ozone Dose (ppd/100)"},
            "shape": {"datum": "Ozone Dose (ppd/100)"}
          }
        }
      ]
    },
    {
      "data": {"name": "changes"},
      "mark": {"type": "rule", "color": "#C00000", "strokeWidth": 1.5, "strokeDash": [4, 3]},
      "encoding": {
        "x": {"field": "date", "type": "temporal", "title": null}
      }
    }
  ],
  "resolve": {"scale": {"y": "independent"}}
}
